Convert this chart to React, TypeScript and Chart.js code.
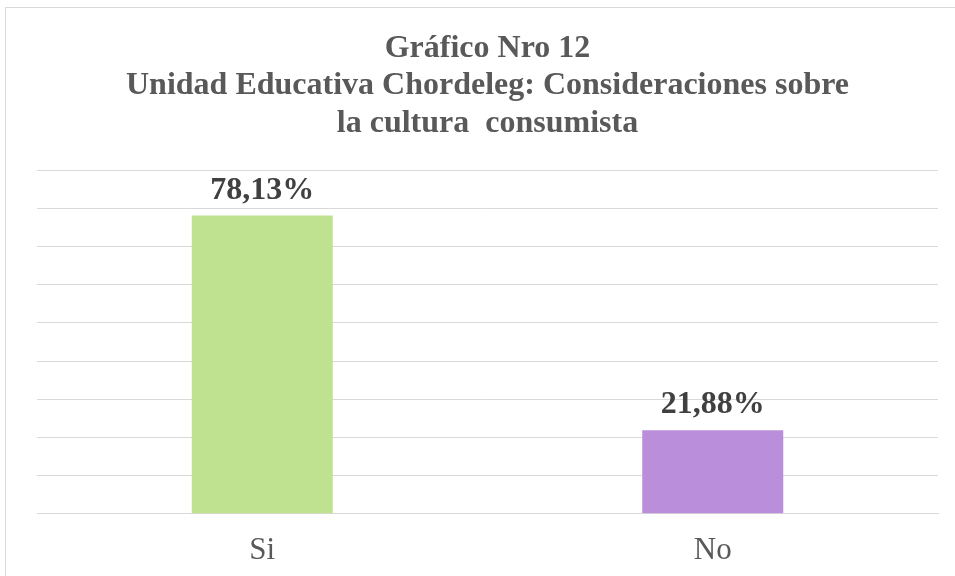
import React, { useEffect, useRef } from "react";
import { Chart, registerables } from "chart.js";

Chart.register(...registerables);

const categories = ["Si", "No"];
const values = [78.13, 21.88];
const valueLabels = ["78,13%", "21,88%"];
const barColors = ["#BFE291", "#BB8EDB"];
const titleLines = [
  "Gráfico Nro 12",
  "Unidad Educativa Chordeleg: Consideraciones sobre",
  "la cultura  consumista",
];

const labelPlugin = {
  id: "valueLabels",
  afterDatasetsDraw(chart: any) {
    const ctx = chart.ctx;
    const meta = chart.getDatasetMeta(0);
    ctx.save();
    ctx.font = "bold 32px 'Liberation Serif', serif";
    ctx.fillStyle = "#404040";
    ctx.textAlign = "center";
    ctx.textBaseline = "alphabetic";
    meta.data.forEach((bar: any, i: number) => {
      ctx.fillText(valueLabels[i], bar.x, bar.y - 17);
    });
    ctx.restore();
  },
};

export default function App() {
  const ref = useRef<HTMLCanvasElement>(null);
  useEffect(() => {
    if (!ref.current) return;
    const chart = new Chart(ref.current, {
      type: "bar",
      data: {
        labels: categories,
        datasets: [
          {
            data: values,
            backgroundColor: barColors,
            borderWidth: 0,
            categoryPercentage: 1,
            barPercentage: 0.313,
          },
        ],
      },
      options: {
        responsive: false,
        animation: false,
        layout: { padding: { left: 37, right: 17, top: 30, bottom: -11 } },
        plugins: {
          legend: { display: false },
          tooltip: { enabled: false },
          title: {
            display: true,
            text: titleLines,
            color: "#595959",
            font: { family: "'Liberation Serif', serif", size: 32, weight: "bold", lineHeight: 1.17 },
            padding: { top: 0, bottom: 28 },
          },
        },
        scales: {
          x: {
            grid: { display: false, drawTicks: false },
            border: { display: true, color: "#D9D9D9", width: 1 },
            ticks: {
              color: "#595959",
              font: { family: "'Liberation Serif', serif", size: 31 },
              padding: 18,
            },
          },
          y: {
            min: 0,
            max: 90,
            ticks: { display: false, stepSize: 10 },
            grid: { color: "#D9D9D9", lineWidth: 1, drawTicks: false },
            border: { display: false },
          },
        },
      },
      plugins: [labelPlugin],
    });
    return () => chart.destroy();
  }, []);
  return (
    <div style={{ position: "fixed", left: 0, top: 0, width: 955, height: 576, background: "#fff" }}>
      <div
        style={{
          position: "absolute",
          left: 5,
          top: 7,
          width: 960,
          height: 580,
          border: "1px solid #D9D9D9",
          boxSizing: "border-box",
        }}
      />
      <canvas ref={ref} width={955} height={576} style={{ position: "absolute", left: 0, top: 0 }} />
    </div>
  );
}
